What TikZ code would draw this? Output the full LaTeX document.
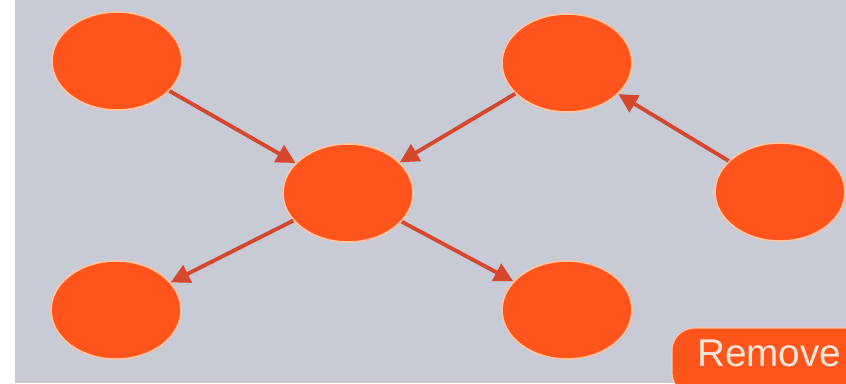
\documentclass[tikz,border=0pt]{standalone}
\usepackage{fontspec}
\setsansfont{Liberation Sans}
\usepackage{xcolor}
\usetikzlibrary{arrows.meta,positioning,shapes.geometric}
\definecolor{bggray}{RGB}{200,202,214}
\definecolor{vfill}{RGB}{255,84,28}
\definecolor{vrim}{RGB}{255,196,160}
\definecolor{edgered}{RGB}{214,72,46}
\definecolor{btntext}{RGB}{248,230,218}
\begin{document}
\begin{tikzpicture}[x=0.02cm, y=-0.02cm,
  vtx/.style={ellipse, draw=vrim, line width=0.9pt, fill=vfill,
              minimum width=2.6cm, minimum height=1.96cm, inner sep=0pt},
  arr/.style={-{Triangle[length=3.8mm, width=3.8mm]}, line width=2.2pt, draw=edgered},
  btn/.style={fill=vfill, draw=vrim, line width=0.6pt, rounded corners=0.45cm}]
\useasboundingbox (0,0) rectangle (846,383);
\clip (0,0) rectangle (846,383);
\fill[bggray] (15,0) rectangle (846,383);
% --- vertices ---
\node[vtx] (tl) at (117,61) {};
\node[vtx] (tr) at (567,63) {};
\node[vtx] (hub) at (348,193) {};
\node[vtx] (rt) at (780,192) {};
\node[vtx] (bl) at (116,310) {};
\node[vtx] (br) at (567,310) {};
% --- edges ---
\draw[arr] (tl) -- (hub);
\draw[arr] (tr) -- (hub);
\draw[arr] (rt) -- (tr);
\draw[arr] (hub) -- (bl);
\draw[arr] (hub) -- (br);
% --- remove button ---
\draw[btn] (672,328) rectangle (900,395);
\node[anchor=base west, inner sep=0pt, text=btntext, font=\sffamily\fontsize{22}{24}\selectfont]
  (remove) at (697,366) {Remove};
\end{tikzpicture}
\end{document}
